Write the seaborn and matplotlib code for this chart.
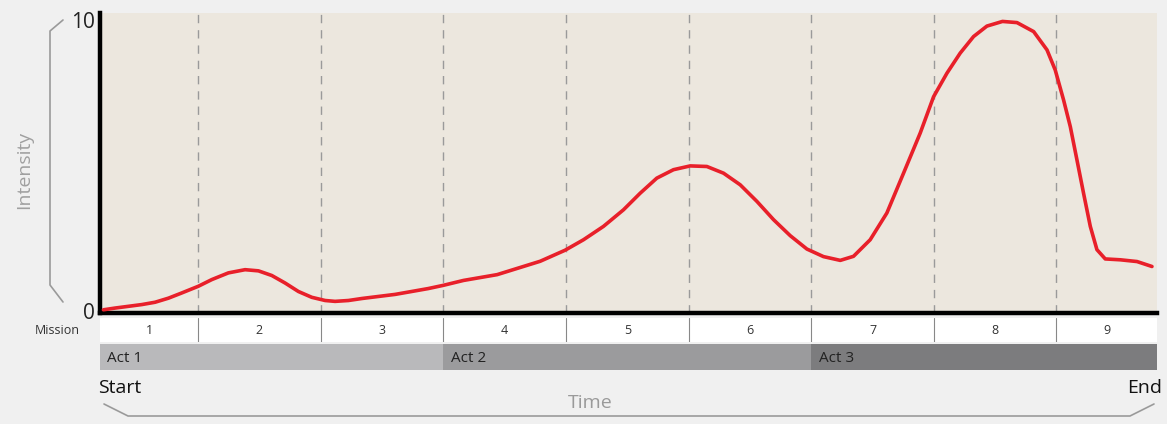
import matplotlib
matplotlib.use("Agg")
import matplotlib.pyplot as plt
import seaborn as sns
import pandas as pd
from matplotlib.lines import Line2D

# ---- data ----
# time in "mission" units: mission boundaries at 1..8
time = [0.228, 0.323, 0.432, 0.541, 0.649, 0.758, 0.867, 1.002, 1.112, 1.247,
        1.383, 1.492, 1.601, 1.710, 1.818, 1.927, 2.036, 2.117, 2.226, 2.338,
        2.607, 2.876, 2.998, 3.164, 3.439, 3.790, 3.993, 4.143, 4.306, 4.469,
        4.605, 4.741, 4.877, 5.013, 5.149, 5.285, 5.421, 5.557, 5.693, 5.829,
        5.965, 6.100, 6.237, 6.345, 6.481, 6.617, 6.753, 6.889, 6.998, 7.107,
        7.215, 7.324, 7.433, 7.560, 7.678, 7.814, 7.923, 7.990, 8.058, 8.113,
        8.167, 8.221, 8.276, 8.330, 8.398, 8.521, 8.657, 8.779]
intensity = [0.03, 0.09, 0.15, 0.21, 0.29, 0.43, 0.61, 0.84, 1.07, 1.30,
             1.41, 1.37, 1.21, 0.95, 0.66, 0.46, 0.35, 0.32, 0.35, 0.42,
             0.56, 0.76, 0.87, 1.04, 1.24, 1.70, 2.08, 2.44, 2.90, 3.47,
             4.04, 4.56, 4.85, 4.98, 4.96, 4.73, 4.33, 3.76, 3.13, 2.58,
             2.12, 1.86, 1.73, 1.87, 2.44, 3.36, 4.73, 6.11, 7.36, 8.17,
             8.86, 9.43, 9.79, 9.95, 9.91, 9.60, 8.97, 8.28, 7.25, 6.33,
             5.19, 4.04, 2.90, 2.10, 1.78, 1.75, 1.69, 1.52]
missions = ["1", "2", "3", "4", "5", "6", "7", "8", "9"]
act_names = ["Act 1", "Act 2", "Act 3"]
act_first_mission = [1, 4, 7]
y_ticks = [0, 10]
y_tick_labels = ["0", "10"]

XMIN, XMAX = 0.2, 8.82
YMIN, YMAX = -0.08, 10.24

sns.set_theme(style="white")
FONT = ["Open Sans", "DejaVu Sans"]
plt.rcParams["font.family"] = FONT

W, H = 1167, 424
fig = plt.figure(figsize=(W / 100, H / 100), dpi=100, facecolor="#f0f0f0")

def box(x0, y0, x1, y1):
    return [x0 / W, 1 - y1 / H, (x1 - x0) / W, (y1 - y0) / H]

ax = fig.add_axes(box(100, 13, 1157, 313))
ax.set_facecolor("#ece7de")
df = pd.DataFrame({"time": time, "intensity": intensity})
sns.lineplot(data=df, x="time", y="intensity", ax=ax, color="#e8202a",
             linewidth=2.6, estimator=None, sort=False, zorder=5)
for ln in ax.get_lines():
    ln.set_solid_joinstyle("round")
    ln.set_solid_capstyle("round")
ax.set_xlim(XMIN, XMAX)
ax.set_ylim(YMIN, YMAX)
for b in range(1, len(missions)):
    ax.axvline(b, color="#9a9a9a", lw=1.0, ls=(0, (6, 5)), zorder=1)
for s in ["top", "right"]:
    ax.spines[s].set_visible(False)
ax.spines["left"].set_color("black")
ax.spines["left"].set_linewidth(3.2)
ax.spines["bottom"].set_color("black")
ax.spines["bottom"].set_linewidth(3.2)
ax.set_xticks([])
ax.set_yticks(y_ticks)
ax.set_yticklabels(y_tick_labels, fontsize=15, color="#222222")
ax.tick_params(axis="y", length=0, pad=4)
ax.set_xlabel("")
ax.set_ylabel("")

# mission strip
axm = fig.add_axes(box(100, 318, 1157, 342))
axm.set_facecolor("white")
axm.set_xlim(XMIN, XMAX)
axm.set_ylim(0, 1)
for i, m in enumerate(missions):
    lo = max(i, XMIN)
    hi = min(i + 1, XMAX)
    axm.text((lo + hi) / 2, 0.5, m, ha="center", va="center", fontsize=9, color="#333333")
    if i > 0:
        axm.axvline(i, color="#888888", lw=0.8)
axm.set_xticks([]); axm.set_yticks([])
for s in axm.spines.values():
    s.set_visible(False)
fig.text(80 / W, 1 - 331 / H, "Mission", ha="right", va="center", fontsize=9, color="#333333")

# act strip
axa = fig.add_axes(box(100, 344, 1157, 370))
axa.set_xlim(XMIN, XMAX)
axa.set_ylim(0, 1)
act_colors = ["#b9b9bb", "#9b9b9d", "#7c7c7e"]
for k, name in enumerate(act_names):
    lo = max(act_first_mission[k] - 1, XMIN)
    hi = act_first_mission[k + 1] - 1 if k + 1 < len(act_names) else XMAX
    axa.axvspan(lo, hi, color=act_colors[k], lw=0)
    axa.text(lo + 0.06, 0.45, name, ha="left", va="center", fontsize=11, color="#222222")
axa.set_xticks([]); axa.set_yticks([])
for s in axa.spines.values():
    s.set_visible(False)

# Start / End / Time
fig.text(98 / W, 1 - 388 / H, "Start", ha="left", va="center", fontsize=14, color="#111111")
fig.text(1162 / W, 1 - 388 / H, "End", ha="right", va="center", fontsize=14, color="#111111")
fig.text(590 / W, 1 - 403 / H, "Time", ha="center", va="center", fontsize=14, color="#9a9a9a")
fig.text(24 / W, 1 - 170 / H, "Intensity", ha="center", va="center", rotation=90,
         fontsize=14, color="#a0a0a0")

def fline(xs, ys):
    fig.add_artist(Line2D([x / W for x in xs], [1 - y / H for y in ys],
                          color="#9a9a9a", lw=1.2, transform=fig.transFigure))

fline([63, 50, 50, 63], [20, 31, 285, 302])
fline([104, 128, 1130, 1154], [404, 416, 416, 404])

fig.savefig("out.png", dpi=100, facecolor=fig.get_facecolor())
